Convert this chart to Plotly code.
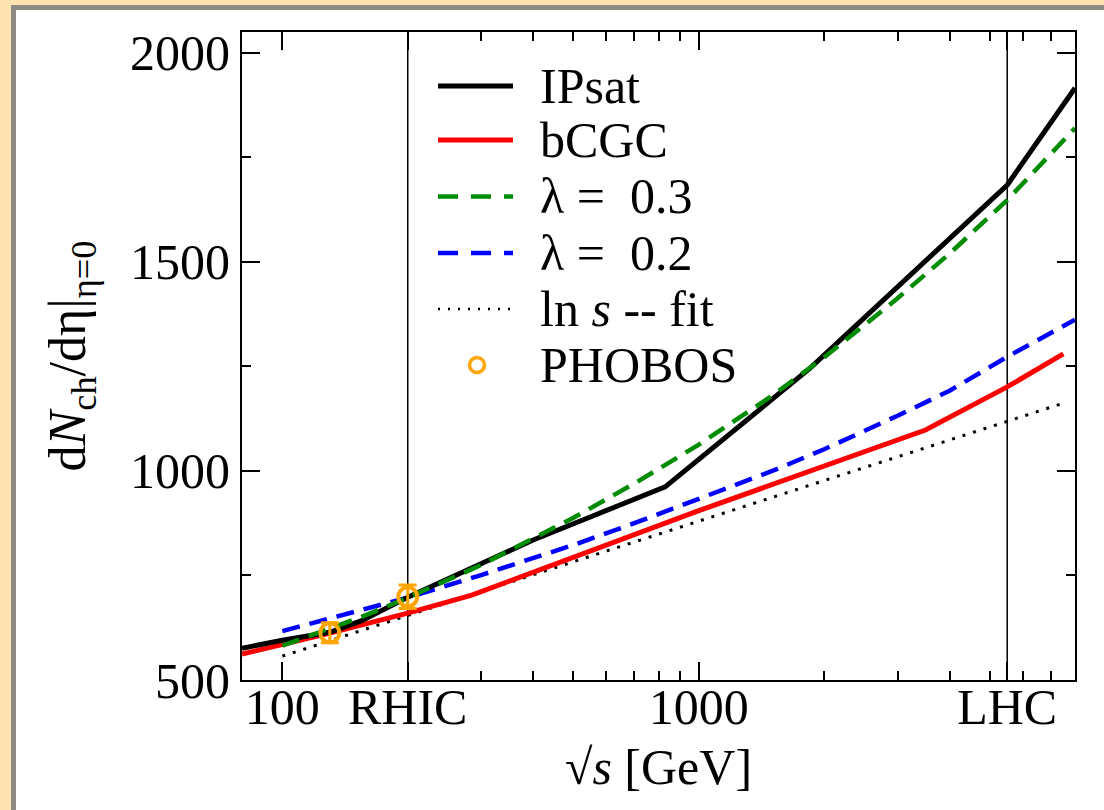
import plotly.graph_objects as go

# ---------------- data ----------------
energy_ipsat = [80, 100, 130, 155, 200, 400, 830, 1850, 5500, 8000]
dn_ipsat = [576, 595, 614, 642, 698, 835, 962, 1246, 1684, 1916]

energy_bcgc = [80, 100, 130, 200, 285, 1000, 3500, 5500, 7500]
dn_bcgc = [562, 584, 612, 660, 703, 905, 1098, 1201, 1280]

energy_lambda = [100, 130, 155, 200, 300, 500, 700, 1000, 1500, 2000, 3000, 4000, 5500, 8000]
dn_lambda03 = [582, 622, 651, 697, 775, 888, 970, 1063, 1180, 1272, 1413, 1520, 1648, 1820]
dn_lambda02 = [617, 647, 667, 697, 751, 823, 875, 933, 1000, 1052, 1132, 1192, 1273, 1362]

energy_fit = [100, 130, 200, 500, 1000, 2000, 5500, 7600]
dn_fit = [557, 594, 655, 783, 880, 977, 1118, 1164]

phobos_energy = [130, 200]
phobos_dn = [613, 699]
phobos_err = [24, 28]

collider_energy = [200, 5500]          # RHIC, LHC vertical markers
x_tickvals = [100, 200, 1000, 5500]
x_ticktext = ["100", "RHIC", "1000", "LHC"]
x_minorvals = [300, 400, 500, 600, 700, 800, 900, 2000, 3000, 4000, 5000, 6000, 7000, 8000]
y_tickvals = [500, 1000, 1500, 2000]

legend_labels = ["IPsat", "bCGC", "λ = \u00a00.3", "λ = \u00a00.2", "ln <i>s</i> -- fit", "PHOBOS"]

# ---------------- figure ----------------
FONT = "Liberation Serif"
W, H = 1104, 810
L, R, T, B = 242, 29, 32, 130
PW, PH = W - L - R, H - T - B

def px_x(p):
    return (p - L) / PW

def px_y(p):
    return (H - B - p) / PH

fig = go.Figure()

fig.add_trace(go.Scatter(x=energy_fit, y=dn_fit, mode="lines",
                         line=dict(color="black", width=3, dash="3px,8px"),
                         showlegend=False))
fig.add_trace(go.Scatter(x=energy_lambda, y=dn_lambda02, mode="lines",
                         line=dict(color="#0000FF", width=4.5, dash="18px,10px"),
                         showlegend=False))
fig.add_trace(go.Scatter(x=energy_bcgc, y=dn_bcgc, mode="lines",
                         line=dict(color="#FF0000", width=5), showlegend=False))
fig.add_trace(go.Scatter(x=energy_ipsat, y=dn_ipsat, mode="lines",
                         line=dict(color="black", width=5), showlegend=False))
fig.add_trace(go.Scatter(x=energy_lambda, y=dn_lambda03, mode="lines",
                         line=dict(color="#008C00", width=4.5, dash="18px,10px"),
                         showlegend=False))
fig.add_trace(go.Scatter(x=phobos_energy, y=phobos_dn, mode="markers",
                         marker=dict(symbol="circle-open", size=19, color="#FFA500",
                                     line=dict(width=4, color="#FFA500")),
                         error_y=dict(type="data", array=phobos_err, visible=True,
                                      color="#FFA500", thickness=3, width=9),
                         showlegend=False))

shapes = []
# page frame: grey edge and white panel
shapes.append(dict(type="rect", xref="paper", yref="paper", layer="below",
                   x0=px_x(11), x1=px_x(W + 20), y0=px_y(H + 20), y1=px_y(5),
                   fillcolor="#8E8B84", line=dict(width=0)))
shapes.append(dict(type="rect", xref="paper", yref="paper", layer="below",
                   x0=px_x(16), x1=px_x(W + 20), y0=px_y(H + 20), y1=px_y(10),
                   fillcolor="white", line=dict(width=0)))
# RHIC / LHC vertical lines
for e in collider_energy:
    shapes.append(dict(type="line", xref="x", yref="paper", x0=e, x1=e, y0=0, y1=1,
                       line=dict(color="black", width=1.5), layer="below"))

# manual legend
leg_rows_px = [86, 140, 196.5, 253, 309, 365]
leg_styles = [dict(color="black", width=5),
              dict(color="#FF0000", width=5),
              dict(color="#008C00", width=4.5, dash="20px,13px"),
              dict(color="#0000FF", width=4.5, dash="20px,13px"),
              dict(color="black", width=2.5, dash="2px,8px")]
annotations = []
for i, lab in enumerate(legend_labels):
    yc = px_y(leg_rows_px[i])
    if i < 5:
        shapes.append(dict(type="line", xref="paper", yref="paper",
                           x0=px_x(438), x1=px_x(513), y0=yc, y1=yc,
                           line=leg_styles[i]))
    else:
        r = 7.5
        shapes.append(dict(type="circle", xref="paper", yref="paper",
                           x0=px_x(477 - r), x1=px_x(477 + r),
                           y0=px_y(leg_rows_px[i] + r), y1=px_y(leg_rows_px[i] - r),
                           line=dict(color="#FFA500", width=3.5)))
    annotations.append(dict(xref="paper", yref="paper", x=px_x(538), y=yc,
                            xanchor="left", yanchor="middle", showarrow=False,
                            text=lab, font=dict(family=FONT, size=50, color="black")))

fig.update_layout(
    width=W, height=H,
    margin=dict(l=L, r=R, t=T, b=B, pad=0),
    paper_bgcolor="#FFE4B2",
    plot_bgcolor="rgba(0,0,0,0)",
    font=dict(family=FONT, color="black"),
    shapes=shapes,
    annotations=annotations,
    showlegend=False,
)

fig.update_xaxes(
    type="log", range=[1.90309, 3.90309],
    tickmode="array", tickvals=x_tickvals, ticktext=x_ticktext,
    ticks="inside", ticklen=18, tickwidth=1.5, tickcolor="black",
    minor=dict(tickvals=x_minorvals, ticks="inside", ticklen=9, tickwidth=1.5, tickcolor="black"),
    showline=True, linecolor="black", linewidth=2, mirror="ticks",
    showgrid=False, zeroline=False,
    tickfont=dict(family=FONT, size=50, color="black"),
    ticklabelstandoff=-18,
    title=dict(text="√<i>s</i> [GeV]", font=dict(family=FONT, size=50, color="black"), standoff=15),
)
fig.update_yaxes(
    range=[500, 2050],
    tickmode="array", tickvals=y_tickvals,
    ticks="inside", ticklen=18, tickwidth=1.5, tickcolor="black",
    minor=dict(dtick=250, tick0=500, ticks="inside", ticklen=9, tickwidth=1.5, tickcolor="black"),
    showline=True, linecolor="black", linewidth=2, mirror="ticks",
    showgrid=False, zeroline=False,
    tickfont=dict(family=FONT, size=50, color="black"),
    ticklabelstandoff=0,
    title=dict(text="d<i>N</i><sub>ch</sub>/dη|<sub>η=0</sub>",
               font=dict(family=FONT, size=52, color="black"), standoff=28),
)

fig.write_html("out.html", config={"displayModeBar": False},
               post_script="document.body.style.margin='0';")
